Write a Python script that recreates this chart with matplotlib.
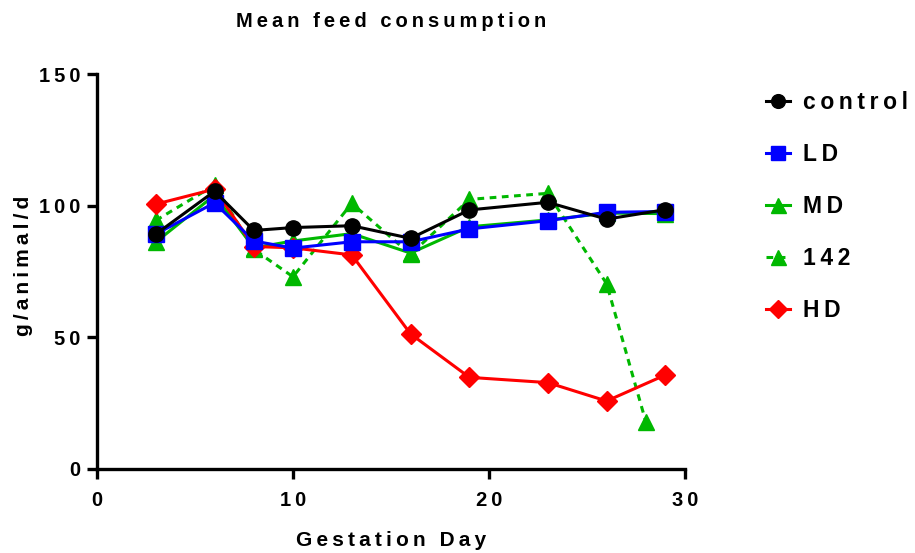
import matplotlib.pyplot as plt

plt.rcParams['font.family'] = ['Liberation Sans', 'DejaVu Sans']
plt.rcParams['font.weight'] = 'bold'

# gestation days
days = [3, 6, 8, 10, 13, 16, 19, 23, 26, 29]
days_142 = [3, 6, 8, 10, 13, 16, 19, 23, 26, 28]

control = [89.2, 105.5, 90.6, 91.7, 92.4, 87.6, 98.4, 101.3, 94.9, 98.5]
ld = [89.2, 101.1, 86.6, 83.9, 86.3, 86.3, 91.2, 94.3, 97.5, 97.8]
md = [86.2, 104.0, 84.0, 86.6, 89.4, 82.0, 92.0, 94.6, 97.2, 97.0]
d142 = [94.4, 107.8, 83.4, 73.0, 100.9, 81.5, 102.4, 104.7, 70.4, 18.0]
hd = [100.6, 106.3, 84.5, 84.0, 81.3, 51.3, 34.8, 32.8, 25.8, 35.7]

labels = ['control', 'LD', 'MD', '142', 'HD']
xticks = [0, 10, 20, 30]
yticks = [0, 50, 100, 150]


def spaced(s):
    # wide letter spacing like the original
    return '\u2009'.join(s)


green = '#00B800'
fig = plt.figure(figsize=(9.15, 5.53), dpi=100)
ax = fig.add_axes([0.106, 0.152, 0.6426, 0.714])

lw = 2.2
h142, = ax.plot(days_142, d142, color=green, ls=(0, (2.2, 1.8)), lw=lw, marker='^', ms=12, zorder=2)
hmd, = ax.plot(days, md, color=green, lw=lw, marker='^', ms=12, zorder=3)
hhd, = ax.plot(days, hd, color='#FF0000', lw=lw, marker='D', ms=10, zorder=4)
hld, = ax.plot(days, ld, color='#0000FF', lw=lw, marker='s', ms=11.5, zorder=5)
hc, = ax.plot(days, control, color='black', lw=lw, marker='o', ms=11, zorder=6)

ax.set_xlim(0, 30)
ax.set_ylim(0, 150)
ax.set_xticks(xticks)
ax.set_xticklabels([spaced(str(t)) for t in xticks], fontsize=14.5, fontweight='bold')
ax.set_yticks(yticks)
ax.set_yticklabels([spaced(str(t)) for t in yticks], fontsize=14.5, fontweight='bold')
ax.spines['top'].set_visible(False)
ax.spines['right'].set_visible(False)
for sp in ['left', 'bottom']:
    ax.spines[sp].set_linewidth(2.4)
ax.tick_params(axis='x', width=2.4, length=7, pad=9)
ax.tick_params(axis='y', width=2.4, length=7, pad=5)

ax.set_title(spaced('Mean feed consumption'), fontsize=14.5, fontweight='bold', pad=34)
ax.set_xlabel(spaced('Gestation Day'), fontsize=15, fontweight='bold')
ax.set_ylabel(spaced('g/animal/d'), fontsize=15, fontweight='bold')
ax.xaxis.set_label_coords(0.5, -0.158)
ax.yaxis.set_label_coords(-0.109, 0.514)

leg = fig.legend([hc, hld, hmd, h142, hhd], [spaced(l) for l in labels],
                 loc='upper left', bbox_to_anchor=(766 / 915, 1 - 91 / 553), frameon=False,
                 fontsize=16.5, labelspacing=1.27, handlelength=1.05, handletextpad=0.57,
                 borderpad=0, borderaxespad=0, markerscale=0.9)
for t in leg.get_texts():
    t.set_fontweight('bold')

fig.savefig('out.png', dpi=100)
